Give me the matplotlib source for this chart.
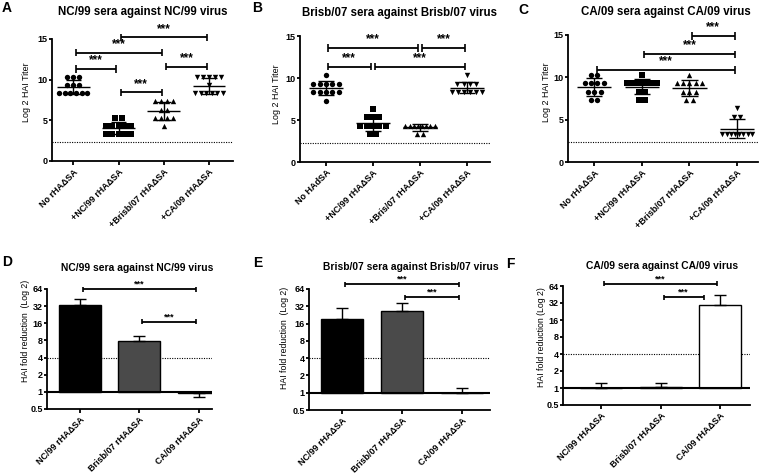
import numpy as np
import matplotlib
matplotlib.use("Agg")
import matplotlib.pyplot as plt
from matplotlib import rc

# log2 HAI titers (A-C)
A_no = [10.32, 10.32, 10.32, 9.32, 9.32, 9.32, 8.32, 8.32, 8.32, 8.32, 8.32, 8.32]
A_nc = [5.32, 5.32, 4.32, 4.32, 4.32, 4.32, 4.32, 3.32, 3.32, 3.32, 3.32, 3.32]
A_br = [7.32, 7.32, 7.32, 7.32, 6.32, 6.32, 5.32, 5.32, 5.32, 5.32, 4.32]
A_ca = [10.32, 10.32, 10.32, 10.32, 10.32, 9.32, 8.32, 8.32, 8.32, 8.32, 8.32, 8.32]

B_no = [10.32, 9.32, 9.32, 9.32, 9.32, 9.32, 8.32, 8.32, 8.32, 8.32, 8.32, 7.32]
B_nc = [6.32, 5.32, 5.32, 5.32, 4.32, 4.32, 4.32, 4.32, 4.32, 3.32, 3.32]
B_br = [4.32, 4.32, 4.32, 4.32, 4.32, 4.32, 4.32, 4.32, 3.32, 3.32]
B_ca = [10.32, 9.32, 9.32, 9.32, 9.32, 8.32, 8.32, 8.32, 8.32, 8.32, 8.32]

C_no = [10.32, 10.32, 9.32, 9.32, 9.32, 9.32, 8.32, 8.32, 8.32, 7.32, 7.32]
C_nc = [10.32, 9.32, 9.32, 9.32, 9.32, 9.32, 9.32, 9.32, 8.32, 8.32, 7.32, 7.32]
C_br = [10.32, 9.32, 9.32, 9.32, 9.32, 9.32, 8.32, 8.32, 8.32, 7.32, 7.32]
C_ca = [6.32, 5.32, 5.32, 3.32, 3.32, 3.32, 3.32, 3.32, 3.32, 3.32, 3.32]

labels_AC = ["No rHA\u0394SA", "+NC/99 rHA\u0394SA", "+Brisb/07 rHA\u0394SA", "+CA/09 rHA\u0394SA"]
labels_B = ["No HAdSA", "+NC/99 rHA\u0394SA", "+Bris/07 rHA\u0394SA", "+CA/09 rHA\u0394SA"]
labels_DF = ["NC/99 rHA\u0394SA", "Brisb/07 rHA\u0394SA", "CA/09 rHA\u0394SA"]

# fold reduction bars (D-F): mean and SD
D_vals = [33, 7.8, 0.95]
D_err = [9, 1.8, 0.15]
E_vals = [19, 26, 1.0]
E_err = [10.5, 10, 0.23]
F_vals = [1.0, 1.05, 29.5]
F_err = [0.23, 0.18, 15.5]

# significance brackets: (from, to, height)
A_sig = [(1, 3, 15.2), (0, 2, 13.3), (0, 1, 11.3), (2, 3, 11.6), (1, 2, 8.45)]
B_sig = [(0, 2, 13.6), (2, 3, 13.6), (0, 1, 11.35), (1, 3, 11.35)]
C_sig = [(2, 3, 14.9), (1, 3, 12.7), (0, 3, 10.9)]
D_sig = [(0, 2, 64), (1, 2, 17)]
E_sig = [(0, 2, 78), (1, 2, 46.5)]
F_sig = [(0, 2, 70), (1, 1.77, 41)]

rc('font', family=['Liberation Sans', 'DejaVu Sans'], weight='bold', size=6.5)
rc('axes', linewidth=1.3)
rc('xtick.major', width=1.3, size=3)
rc('ytick.major', width=1.3, size=2.2)

W, H = 760, 475
fig = plt.figure(figsize=(7.6, 4.75), dpi=100)


def px_axes(l, r, t, b):
    return fig.add_axes([l / W, 1 - b / H, (r - l) / W, (b - t) / H])


def ftext(x, y, s, **kw):
    fig.text(x / W, 1 - y / H, s, **kw)


def style(ax):
    for s in ['top', 'right']:
        ax.spines[s].set_visible(False)
    ax.tick_params(direction='out', labelsize=6.5)
    ax.tick_params(axis='y', pad=1)
    ax.tick_params(axis='x', pad=1.5)


def bracket(ax, x0, x1, y, h, ty, fs):
    gap = 0.05
    ax.plot([x0 + gap, x1 - gap], [y, y], color='k', lw=1.3, clip_on=False, solid_capstyle='butt')
    ax.vlines([x0 + gap, x1 - gap], y - h, y + h, color='k', lw=1.2, clip_on=False)
    ax.text((x0 + x1) / 2, ty, '***', ha='center', va='center', fontsize=fs, clip_on=False)


def dot_panel(ax, groups, labels, sig, xlim):
    markers = ['o', 's', '^', 'v']
    for i, vals in enumerate(groups):
        vals = np.asarray(vals)
        xs = np.zeros(len(vals))
        for lev in np.unique(vals):
            idx = np.where(vals == lev)[0]
            n = len(idx)
            step = min(0.135, 0.62 / max(n - 1, 1))
            xs[idx] = i + (np.arange(n) - (n - 1) / 2) * step
        ax.scatter(xs, vals, marker=markers[i], s=15, color='black', linewidths=0, zorder=3)
        m, sd = vals.mean(), vals.std(ddof=1)
        ax.hlines(m, i - 0.36, i + 0.36, color='black', lw=1.0, zorder=4)
        ax.vlines(i, m - sd, m + sd, color='black', lw=1.0, zorder=4)
        ax.hlines([m - sd, m + sd], i - 0.17, i + 0.17, color='black', lw=1.0, zorder=4)
    ax.axhline(2.32, color='k', lw=0.8, ls=(0, (1, 1.2)))
    ax.set_ylim(0, 15)
    ax.set_xlim(*xlim)
    ax.set_yticks([0, 5, 10, 15])
    ax.set_xticks(range(4))
    ax.set_xticklabels(labels, rotation=45, ha='right', rotation_mode='anchor')
    for a, b, y in sig:
        bracket(ax, a, b, y, 0.45, y + 1.05, 8.5)
    style(ax)


def bar_panel(ax, vals, errs, colors, labels, sig, xlim):
    x = np.arange(3)
    ax.set_yscale('log', base=2)
    heights = [v - 1 for v in vals]
    ax.bar(x, heights, bottom=1, width=0.7, color=colors, edgecolor='black', linewidth=1.0, zorder=2)
    for i, (v, e) in enumerate(zip(vals, errs)):
        yerr = [[0], [e]] if v >= 1 else [[e], [0]]
        ax.errorbar(i, v, yerr=yerr, color='black', capsize=4.5, elinewidth=1.0, capthick=1.0, zorder=3)
    ax.axhline(1, color='k', lw=1.5, zorder=4)
    ax.axhline(4, color='k', lw=0.8, ls=(0, (1, 1.2)), zorder=1)
    ax.set_ylim(0.5, 64)
    ax.set_xlim(*xlim)
    ticks = [0.5, 1, 2, 4, 8, 16, 32, 64]
    ax.set_yticks(ticks)
    ax.set_yticklabels(['0.5', '1', '2', '4', '8', '16', '32', '64'])
    ax.minorticks_off()
    ax.set_xticks(x)
    ax.set_xticklabels(labels, rotation=45, ha='right', rotation_mode='anchor')
    for a, b, y in sig:
        bracket(ax, a, b, y, y * 0.1, y * 1.22, 6.5)
    style(ax)


# top row
axA = px_axes(52, 233, 39, 161)
dot_panel(axA, [A_no, A_nc, A_br, A_ca], labels_AC, A_sig, (-0.47, 3.53))
axB = px_axes(300, 490, 36, 162)
dot_panel(axB, [B_no, B_nc, B_br, B_ca], labels_B, B_sig, (-0.55, 3.49))
axC = px_axes(568, 758, 35, 162)
dot_panel(axC, [C_no, C_nc, C_br, C_ca], labels_AC, C_sig, (-0.55, 3.44))
for ax, xl, yc in [(axA, -0.116, 0.566), (axB, -0.1, 0.54), (axC, -0.09, 0.55)]:
    ax.set_ylabel('Log 2 HAI Titer', fontsize=6.4)
    ax.yaxis.set_label_coords(xl, yc)

# bottom row
axD = px_axes(47, 212, 289, 409)
bar_panel(axD, D_vals, D_err, ['black', '#4a4a4a', 'white'], labels_DF, D_sig, (-0.55, 2.22))
axE = px_axes(309, 490, 289, 410)
bar_panel(axE, E_vals, E_err, ['black', '#4a4a4a', 'white'], labels_DF, E_sig, (-0.55, 2.47))
axF = px_axes(563, 750, 286, 405)
bar_panel(axF, F_vals, F_err, ['white', 'white', 'white'], labels_DF, F_sig, (-0.64, 2.5))
axD.set_ylabel('HAI fold reduction  (Log 2)', fontsize=6.3)
axD.yaxis.set_label_coords(-0.105, 0.65)
axE.set_ylabel('HAI fold reduction  (Log 2)', fontsize=6.3)
axE.yaxis.set_label_coords(-0.11, 0.6)
axF.set_ylabel('HAI fold reduction (Log 2)', fontsize=6.3)
axF.yaxis.set_label_coords(-0.09, 0.57)

# titles and panel letters
top_kw = dict(ha='center', va='center', fontsize=8.3, fontweight='bold')
bot_kw = dict(ha='center', va='center', fontsize=7.4, fontweight='bold')
ftext(143, 12, 'NC/99 sera against NC/99 virus', **top_kw)
ftext(399, 13, 'Brisb/07 sera against Brisb/07 virus', **top_kw)
ftext(666, 12, 'CA/09 sera against CA/09 virus', **top_kw)
ftext(137, 268, 'NC/99 sera against NC/99 virus', **bot_kw)
ftext(411, 267, 'Brisb/07 sera against Brisb/07 virus', **bot_kw)
ftext(662, 266, 'CA/09 sera against CA/09 virus', **bot_kw)

let_kw = dict(ha='center', va='center', fontsize=10, fontweight='bold')
ftext(7, 8, 'A', **let_kw)
ftext(257, 8, 'B', **let_kw)
ftext(523, 10, 'C', **let_kw)
ftext(7, 262, 'D', **let_kw)
ftext(258, 263, 'E', **let_kw)
ftext(510, 264, 'F', **let_kw)

fig.savefig('out.png', dpi=100)
